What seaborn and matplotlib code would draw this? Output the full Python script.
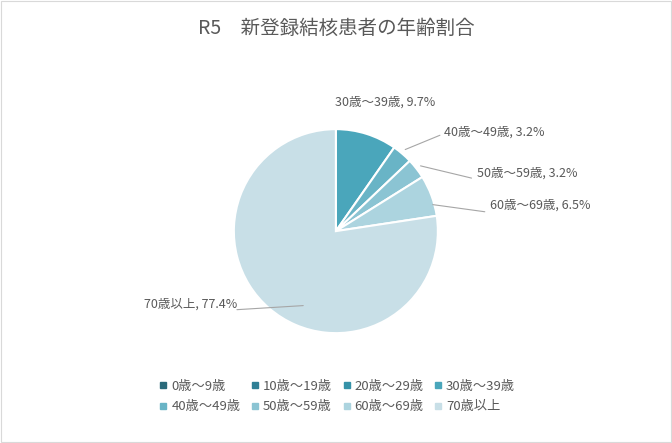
import matplotlib
matplotlib.use("Agg")
import matplotlib.pyplot as plt
import seaborn as sns
from matplotlib.lines import Line2D

categories = ["0歳～9歳", "10歳～19歳", "20歳～29歳", "30歳～39歳",
              "40歳～49歳", "50歳～59歳", "60歳～69歳", "70歳以上"]
values = [0.0, 0.0, 0.0, 9.7, 3.2, 3.2, 6.5, 77.4]
colors = ["#2a6a7a", "#2f7f95", "#3592a8", "#4aa6bb",
          "#69b4c6", "#8bc4d3", "#acd4df", "#c8dfe7"]

sns.set_style("white")
plt.rcParams["font.family"] = "Noto Sans CJK JP"

fig = plt.figure(figsize=(6.72, 4.43), dpi=100)
fig.patch.set_facecolor("white")
fig.add_artist(plt.Rectangle((0.002, 0.002), 0.996, 0.996, transform=fig.transFigure,
                             fill=False, edgecolor="#d9d9d9", lw=0.8))
fig.text(0.5, 0.935, "R5　新登録結核患者の年齢割合", ha="center", va="center",
         fontsize=14, color="#595959")

ax = fig.add_axes([0.348, 0.248, 0.3036, 0.4605])
wedges, _ = ax.pie(values, colors=colors, startangle=90, counterclock=False,
                   radius=1, wedgeprops=dict(edgecolor="white", linewidth=1.5))
ax.set_aspect("equal")
ax.set_xlim(-1, 1); ax.set_ylim(-1, 1)

tc = "#595959"
fs = 9
ax.text(0.48, 1.26, f"{categories[3]}, {values[3]}%", ha="center", va="center", fontsize=fs, color=tc)
lab = [(4, (1.06, 0.97), (0.68, 0.80), (1.02, 0.94)),
       (5, (1.38, 0.57), (0.83, 0.64), (1.33, 0.52)),
       (6, (1.51, 0.25), (0.95, 0.26), (1.46, 0.19))]
for i, tpos, p0, p1 in lab:
    ax.plot([p0[0], p1[0]], [p0[1], p1[1]], color="#a6a6a6", lw=0.8, clip_on=False)
    ax.text(tpos[0], tpos[1], f"{categories[i]}, {values[i]}%", ha="left", va="center",
            fontsize=fs, color=tc)
ax.plot([-0.97, -0.32], [-0.77, -0.73], color="#a6a6a6", lw=0.8, clip_on=False)
ax.text(-0.97, -0.72, f"{categories[7]}, {values[7]}%", ha="right", va="center",
        fontsize=fs, color=tc)

handles = [Line2D([0], [0], marker="s", color="none", markerfacecolor=c,
                  markeredgecolor=c, markersize=5) for c in colors]
# reorder so matplotlib's column-major fill reads row-major
order = [0, 4, 1, 5, 2, 6, 3, 7]
fig.legend([handles[k] for k in order], [categories[k] for k in order],
           loc="center", bbox_to_anchor=(0.5, 0.105), ncol=4,
           frameon=False, fontsize=fs + 0.5, labelcolor=tc, handletextpad=0.1,
           columnspacing=0.6, handlelength=1.0, labelspacing=0.6)

fig.savefig("out.png", dpi=100, facecolor="white")
